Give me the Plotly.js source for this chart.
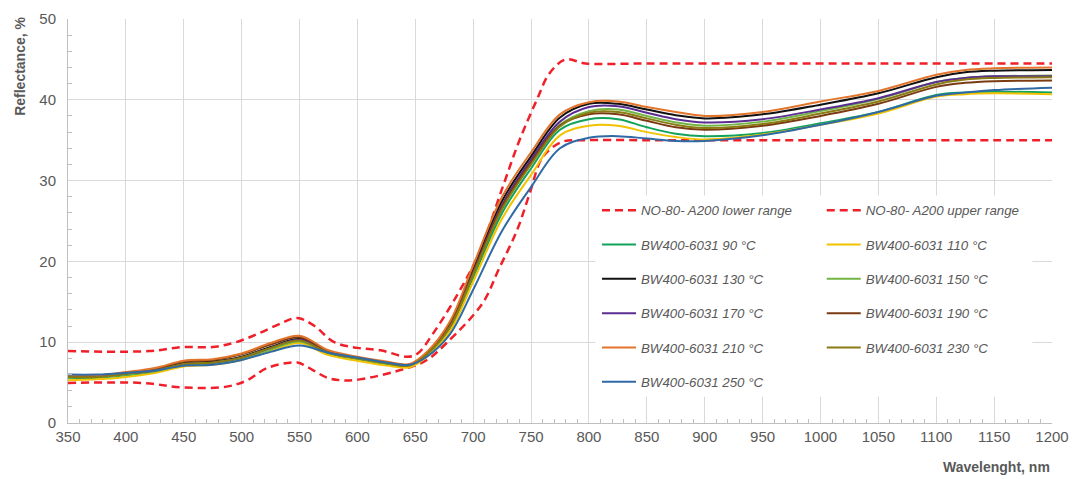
<!DOCTYPE html>
<html>
<head>
<meta charset="utf-8">
<script src="https://cdn.plot.ly/plotly-3.0.1.min.js"></script>
<style>html,body{margin:0;padding:0;background:#fff;}#chart{width:1072px;height:479px;}</style>
</head>
<body>
<div id="chart"></div>
<script>
// Reference range (dashed)
var upperWl = [350, 420, 450, 475, 495, 515, 535, 548, 562, 580, 600, 620, 643, 652, 665, 686, 705, 725, 740, 755, 766, 780, 797, 850, 950, 1050, 1150, 1200];
var upperVal = [8.9, 8.9, 9.4, 9.4, 10.0, 11.1, 12.4, 13.0, 12.1, 10.0, 9.3, 9.0, 8.2, 8.6, 11.0, 15.8, 21.0, 29.0, 35.0, 40.0, 43.3, 45.0, 44.5, 44.5, 44.5, 44.5, 44.5, 44.5];
var lowerWl = [350, 415, 449, 487, 505, 522, 548, 556, 574, 585, 602, 643, 660, 677, 708, 722, 738, 749, 760, 777, 795, 850, 950, 1050, 1150, 1200];
var lowerVal = [4.95, 4.95, 4.4, 4.5, 5.3, 6.8, 7.5, 7.0, 5.6, 5.3, 5.4, 6.8, 7.8, 9.9, 14.8, 19.0, 23.9, 28.5, 32.9, 34.8, 35.0, 35.0, 35.0, 35.0, 35.0, 35.0];

// Measured samples
var wavelengths = [350,375,400,425,450,475,500,525,550,575,600,625,645,660,680,700,725,750,775,800,825,850,875,900,950,1000,1050,1100,1125,1150,1200];
var s90  = [5.6,5.6,5.9,6.3,7.1,7.3,7.9,9.0,10.0,8.6,7.9,7.3,7.0, 8.4,11.7,18.0,26.0,31.5,36.3, 37.6,37.6,36.6,35.8,35.5,35.9,37.1,38.5,40.6,40.9,41.0,40.9];
var s110 = [5.3,5.4,5.7,6.2,7.0,7.2,7.8,8.9,9.9,8.4,7.7,7.1,6.9, 8.2,11.4,17.5,25.3,30.7,35.6, 36.8,36.8,36.0,35.4,35.1,35.7,36.9,38.3,40.4,40.7,40.8,40.7];
var s130 = [5.9,5.9,6.2,6.6,7.4,7.6,8.2,9.4,10.4,8.8,8.1,7.5,7.2, 8.7,12.3,19.0,27.5,33.0,37.8, 39.5,39.5,38.8,38.1,37.7,38.2,39.4,40.8,42.8,43.4,43.6,43.7];
var s150 = [5.7,5.7,6.0,6.4,7.2,7.4,8.0,9.1,10.1,8.7,8.0,7.4,7.1, 8.5,11.9,18.4,26.6,32.2,36.9, 38.6,38.8,38.0,37.2,36.8,37.3,38.6,40.1,42.2,42.7,42.9,43.0];
var s170 = [5.8,5.8,6.1,6.5,7.3,7.5,8.1,9.3,10.3,8.8,8.1,7.5,7.2, 8.6,12.1,18.7,27.0,32.6,37.3, 39.1,39.2,38.4,37.6,37.2,37.6,38.8,40.2,42.2,42.7,42.9,42.9];
var s190 = [5.8,5.8,6.2,6.7,7.6,7.8,8.5,9.7,10.6,8.9,8.1,7.5,7.2, 8.6,12.1,18.6,26.8,32.3,36.8, 38.2,38.2,37.4,36.6,36.3,36.8,38.0,39.5,41.6,42.1,42.3,42.4];
var s210 = [5.9,5.9,6.3,6.8,7.7,7.9,8.6,9.9,10.8,9.0,8.2,7.6,7.3, 8.8,12.6,19.5,28.0,33.5,38.2, 39.7,39.8,39.1,38.5,38.0,38.5,39.8,41.1,43.1,43.7,43.9,44.0];
var s230 = [5.7,5.7,6.1,6.5,7.3,7.5,8.1,9.3,10.2,8.7,8.0,7.4,7.1, 8.5,11.9,18.4,26.5,32.0,36.7, 38.4,38.5,37.7,36.9,36.5,37.0,38.3,39.8,41.9,42.5,42.7,42.8];
var s250 = [6.0,6.0,6.2,6.5,7.1,7.2,7.8,8.8,9.6,8.7,8.1,7.5,7.2, 8.2,11.0,16.5,23.8,29.2,34.0, 35.3,35.5,35.2,34.9,34.9,35.6,36.9,38.5,40.5,40.9,41.2,41.5];

var seriesNames = ['BW400-6031 90 °C','BW400-6031 110 °C','BW400-6031 130 °C','BW400-6031 150 °C','BW400-6031 170 °C','BW400-6031 190 °C','BW400-6031 210 °C','BW400-6031 230 °C','BW400-6031 250 °C'];
var seriesValues = [s90, s110, s130, s150, s170, s190, s210, s230, s250];
var seriesColors = ['#11a35b','#f2c200','#111111','#72b545','#5a2d91','#7a3b12','#e2752b','#8a7a12','#2f6aa6'];
var legendOf = ['legend','legend2','legend','legend2','legend','legend2','legend','legend2','legend'];

var traces = [];
traces.push({x: lowerWl, y: lowerVal, name: 'NO-80- A200 lower range', mode: 'lines',
  line: {color: '#f0202a', width: 2.5, dash: '8px,5px', shape: 'spline'}, legend: 'legend', legendgroup: 'g0'});
traces.push({x: upperWl, y: upperVal, name: 'NO-80- A200 upper range', mode: 'lines',
  line: {color: '#f0202a', width: 2.5, dash: '8px,5px', shape: 'spline'}, legend: 'legend2', legendgroup: 'g1'});
for (var i = 0; i < seriesNames.length; i++) {
  traces.push({x: wavelengths, y: seriesValues[i], name: seriesNames[i], mode: 'lines',
    line: {color: seriesColors[i], width: 2, shape: 'spline'}, legend: legendOf[i], legendgroup: 'g' + (i + 2)});
}

var axisFont = {family: 'Liberation Sans, Arial, sans-serif', size: 15, color: '#595959'};
var legFont = {family: 'Liberation Sans, Arial, sans-serif', size: 13.3, color: '#595959', style: 'italic'};

var layout = {
  width: 1072, height: 479,
  margin: {l: 68, r: 20, t: 19, b: 56},
  paper_bgcolor: '#ffffff', plot_bgcolor: '#ffffff',
  showlegend: true,
  xaxis: {range: [350, 1200], dtick: 50, tick0: 350, showgrid: true, gridcolor: '#d9d9d9', gridwidth: 1,
    showline: true, linecolor: '#bfbfbf', linewidth: 1, ticks: '', tickfont: axisFont, zeroline: false,
    minor: {dtick: 10, ticks: 'inside', ticklen: 4, tickcolor: '#bfbfbf', showgrid: false}},
  yaxis: {range: [0, 50], dtick: 10, showgrid: true, gridcolor: '#d9d9d9', gridwidth: 1,
    showline: true, linecolor: '#bfbfbf', linewidth: 1, ticks: '', tickfont: axisFont, zeroline: false, ticklabelstandoff: 8,
    minor: {dtick: 2, ticks: 'inside', ticklen: 4, tickcolor: '#bfbfbf', showgrid: false}},
  legend: {x: 0.5376, y: 0.564, xanchor: 'left', yanchor: 'top', bgcolor: 'rgba(0,0,0,0)', font: legFont,
    traceorder: 'grouped', tracegroupgap: 14, itemwidth: 34},
  legend2: {x: 0.766, y: 0.564, xanchor: 'left', yanchor: 'top', bgcolor: 'rgba(0,0,0,0)', font: legFont,
    traceorder: 'grouped', tracegroupgap: 14, itemwidth: 34},
  shapes: [{type: 'rect', xref: 'paper', yref: 'paper', x0: 0.536, x1: 0.98, y0: 0.065, y1: 0.563,
    fillcolor: '#ffffff', line: {color: 'rgba(0,0,0,0)', width: 0}, layer: 'above'}],
  annotations: [
    {text: '<b>Reflectance, %</b>', xref: 'paper', yref: 'paper', x: -0.0488, y: 0.884, textangle: -90,
      xanchor: 'center', yanchor: 'middle', showarrow: false, font: {family: 'Liberation Sans, Arial, sans-serif', size: 14, color: '#595959'}},
    {text: '<b>Wavelenght, nm</b>', xref: 'paper', yref: 'paper', x: 1, y: -0.109,
      xanchor: 'right', yanchor: 'middle', showarrow: false, font: {family: 'Liberation Sans, Arial, sans-serif', size: 14, color: '#595959'}}
  ]
};

Plotly.newPlot('chart', traces, layout, {displayModeBar: false, staticPlot: true});
</script>
</body>
</html>
